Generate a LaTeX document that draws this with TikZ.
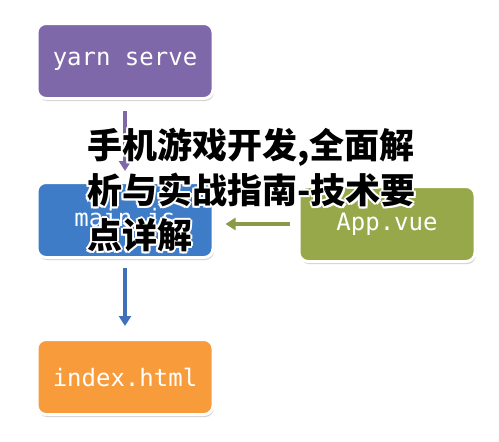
\documentclass[tikz,border=0pt]{standalone}
\usepackage{fontspec}
\newfontfamily\cjk{Noto Sans CJK SC}
\newfontfamily\codefont{DejaVu Sans Mono}
\usetikzlibrary{arrows.meta,shadows}
\definecolor{cpurple}{HTML}{7F68A9}
\definecolor{cblue}{HTML}{3E7CC8}
\definecolor{cgreen}{HTML}{97A84B}
\definecolor{corange}{HTML}{F89B3A}
\definecolor{apurple}{HTML}{8068A8}
\definecolor{agreen}{HTML}{8A9B48}
\definecolor{ablue}{HTML}{3F70B9}
\tikzset{
  codebox/.style={draw=white, line width=3pt, rounded corners=9pt,
    minimum width=176pt, minimum height=75pt, inner sep=0pt,
    text=white, font=\codefont\fontsize{24}{27}\selectfont,
    drop shadow={opacity=0.35, shadow xshift=1pt, shadow yshift=-2.5pt}},
  flow/.style={line width=3.5pt, -{Triangle[width=12pt,length=10pt]}},
  title/.style={anchor=north west, inner sep=0pt, align=left,
    font=\cjk\bfseries\fontsize{35}{45}\selectfont}
}
\begin{document}
\begin{tikzpicture}[x=1pt,y=-1pt]
\useasboundingbox[fill=white] (0,0) rectangle (499,442);
\node[codebox, fill=cpurple] (yarn) at (125,61) {yarn serve};
\node[codebox, fill=cblue] (main) at (125,220) {main.js};
\node[codebox, fill=cgreen] (app) at (387,224) {App.vue};
\node[codebox, fill=corange] (index) at (125,377) {index.html};
\draw[flow, apurple, shorten <=11pt, shorten >=10pt] (yarn.south) -- (main.north);
\draw[flow, agreen, shorten <=8pt, shorten >=11pt] (app.west) -- (app.west -| main.east);
\draw[flow, ablue, shorten <=9pt, shorten >=12pt] (main.south) -- (index.north);
\foreach \dx/\dy in {-2/0,2/0,0/-2,0/2,-1.5/-1.5,1.5/-1.5,-1.5/1.5,1.5/1.5}{
  \node[title, text=white] at ([xshift=\dx pt, yshift=\dy pt]87,128) {手机游戏开发,全面解\\析与实战指南-技术要\\点详解};
}
\node[title, text=black] (ttl) at (87,128) {手机游戏开发,全面解\\析与实战指南-技术要\\点详解};
\end{tikzpicture}
\end{document}
